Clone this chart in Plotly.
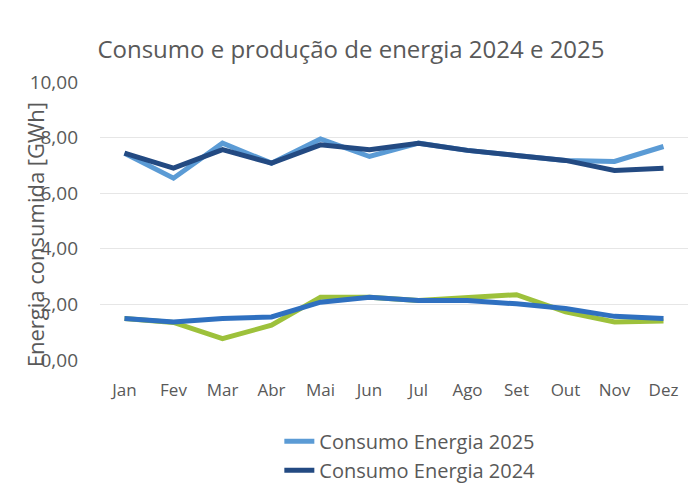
import plotly.graph_objects as go

months = ["Jan", "Fev", "Mar", "Abr", "Mai", "Jun", "Jul", "Ago", "Set", "Out", "Nov", "Dez"]

consumo_2025 = [7.44, 6.54, 7.80, 7.08, 7.95, 7.32, 7.80, 7.54, 7.36, 7.18, 7.14, 7.68]
consumo_2024 = [7.44, 6.90, 7.57, 7.08, 7.74, 7.56, 7.80, 7.54, 7.36, 7.18, 6.82, 6.90]
producao_2025 = [1.49, 1.35, 0.77, 1.25, 2.26, 2.26, 2.14, 2.26, 2.35, 1.73, 1.37, 1.40]
producao_2024 = [1.49, 1.37, 1.49, 1.55, 2.08, 2.26, 2.14, 2.14, 2.02, 1.85, 1.57, 1.49]

FONT = "Open Sans"
GREY = "#595959"

fig = go.Figure()
fig.add_trace(go.Scatter(x=months, y=producao_2025, mode="lines", name="Produção Energia 2025",
                         line=dict(color="#9dc13b", width=5), showlegend=False))
fig.add_trace(go.Scatter(x=months, y=producao_2024, mode="lines", name="Produção Energia 2024",
                         line=dict(color="#2f70c0", width=5), showlegend=False))
fig.add_trace(go.Scatter(x=months, y=consumo_2025, mode="lines", name="Consumo Energia 2025",
                         line=dict(color="#5b9bd5", width=5)))
fig.add_trace(go.Scatter(x=months, y=consumo_2024, mode="lines", name="Consumo Energia 2024",
                         line=dict(color="#234a82", width=5)))

fig.update_layout(
    width=695, height=491,
    margin=dict(l=100, r=7, t=82, b=131, autoexpand=False),
    paper_bgcolor="white", plot_bgcolor="white",
    font=dict(family=FONT, color=GREY, size=17),
    title=dict(text="Consumo e produção de energia 2024 e 2025", x=0.505, xref="container",
               xanchor="center", y=0.9, yanchor="middle",
               font=dict(family=FONT, size=24, color=GREY)),
    xaxis=dict(type="category", range=[-0.5, 11.5], showgrid=False, showline=False,
               zeroline=False, ticks="", ticklabelstandoff=18,
               tickfont=dict(size=17, color=GREY)),
    yaxis=dict(range=[0, 10], dtick=2, tickformat=".2f",
               showgrid=True, gridcolor="#e6e6e6", gridwidth=1, zeroline=False,
               showline=False, ticks="", ticklabelstandoff=21,
               tickfont=dict(size=19, color=GREY)),
    separators=",.",
    legend=dict(orientation="v", x=0.305, xanchor="left", y=-0.222, yanchor="top",
                font=dict(size=20, color=GREY), bgcolor="rgba(0,0,0,0)", tracegroupgap=0),
    annotations=[dict(text="Energia consumida [GWh]", textangle=-90, xref="paper", yref="paper",
                      x=-0.11, y=0.45, xanchor="center", yanchor="middle", showarrow=False,
                      font=dict(family=FONT, size=22, color=GREY))],
)

fig.write_html("out.html")
